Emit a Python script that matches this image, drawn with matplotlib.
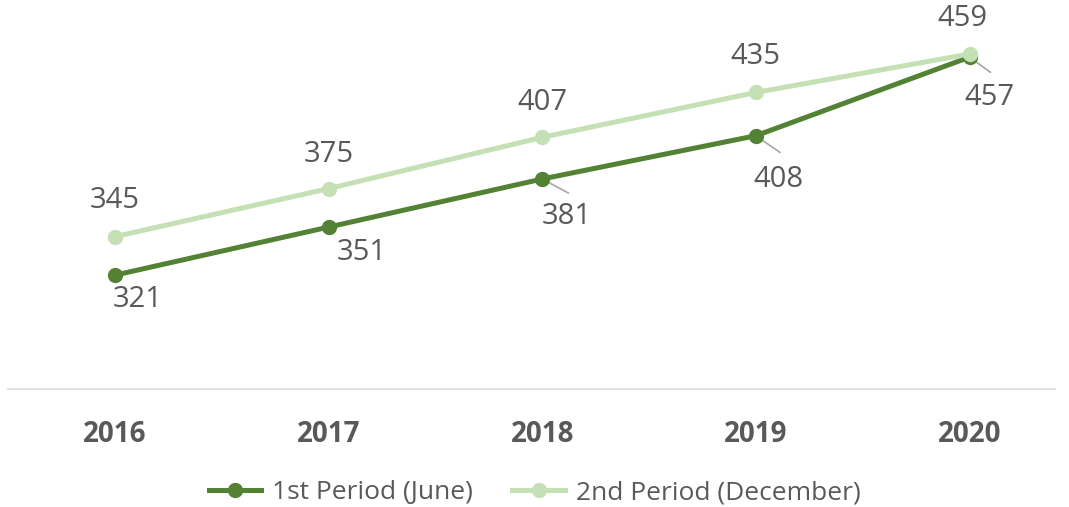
import matplotlib.pyplot as plt

plt.rcParams['font.family'] = ['Open Sans', 'DejaVu Sans']

years = ['2016', '2017', '2018', '2019', '2020']
june = [321, 351, 381, 408, 457]
december = [345, 375, 407, 435, 459]

dark = '#548235'
light = '#C5E0B4'
text_gray = '#595959'

fig = plt.figure(figsize=(10.69, 5.07), dpi=100)
ax = fig.add_axes([8 / 1069, 1 - 389 / 507, 1047 / 1069, 368.7 / 507])

x = range(len(years))
ax.plot(x, june, color=dark, linewidth=3.6, marker='o', markersize=10,
        label='1st Period (June)', zorder=3)
ax.plot(x, december, color=light, linewidth=3.6, marker='o', markersize=10,
        label='2nd Period (December)', zorder=4)

# labels for june, below right
june_off = [(23, -24), (33, -25), (25, -37), (23, -44), (20, -40)]
for i, v in enumerate(june):
    dx, dy = june_off[i]
    ax.annotate(str(v), (i, v), xytext=(dx, dy), textcoords='offset pixels',
                ha='center', va='center', fontsize=21, color=text_gray)
    if i >= 2:
        ax.annotate('', (i, v), xytext=(dx * 1.05, dy * 0.38), textcoords='offset pixels',
                    arrowprops=dict(arrowstyle='-', color='#A6A6A6', lw=1.2,
                                    shrinkA=0, shrinkB=0), zorder=2)

dec_off = [(0, 36), (0, 34), (0, 35), (0, 36), (-7, 35)]
for i, v in enumerate(december):
    dx, dy = dec_off[i]
    ax.annotate(str(v), (i, v), xytext=(dx, dy), textcoords='offset pixels',
                ha='center', va='center', fontsize=21, color=text_gray)

ax.set_xlim(-0.5, 4.4)
ax.set_ylim(250, 480)
ax.set_xticks(list(x))
ax.set_xticklabels(years, fontsize=20, fontweight='bold', color=text_gray)
ax.tick_params(axis='x', length=0, pad=22)
ax.set_yticks([])
for s in ['top', 'right', 'left']:
    ax.spines[s].set_visible(False)
ax.spines['bottom'].set_color('#D9D9D9')
ax.spines['bottom'].set_linewidth(1.2)

leg = fig.legend(loc='center', bbox_to_anchor=(0.5, 1 - 493 / 507), ncol=2,
                 frameon=False, fontsize=19, handlelength=2.0, columnspacing=1.5,
                 handletextpad=0.4)
for t in leg.get_texts():
    t.set_color(text_gray)

fig.savefig('out.png', dpi=100)
